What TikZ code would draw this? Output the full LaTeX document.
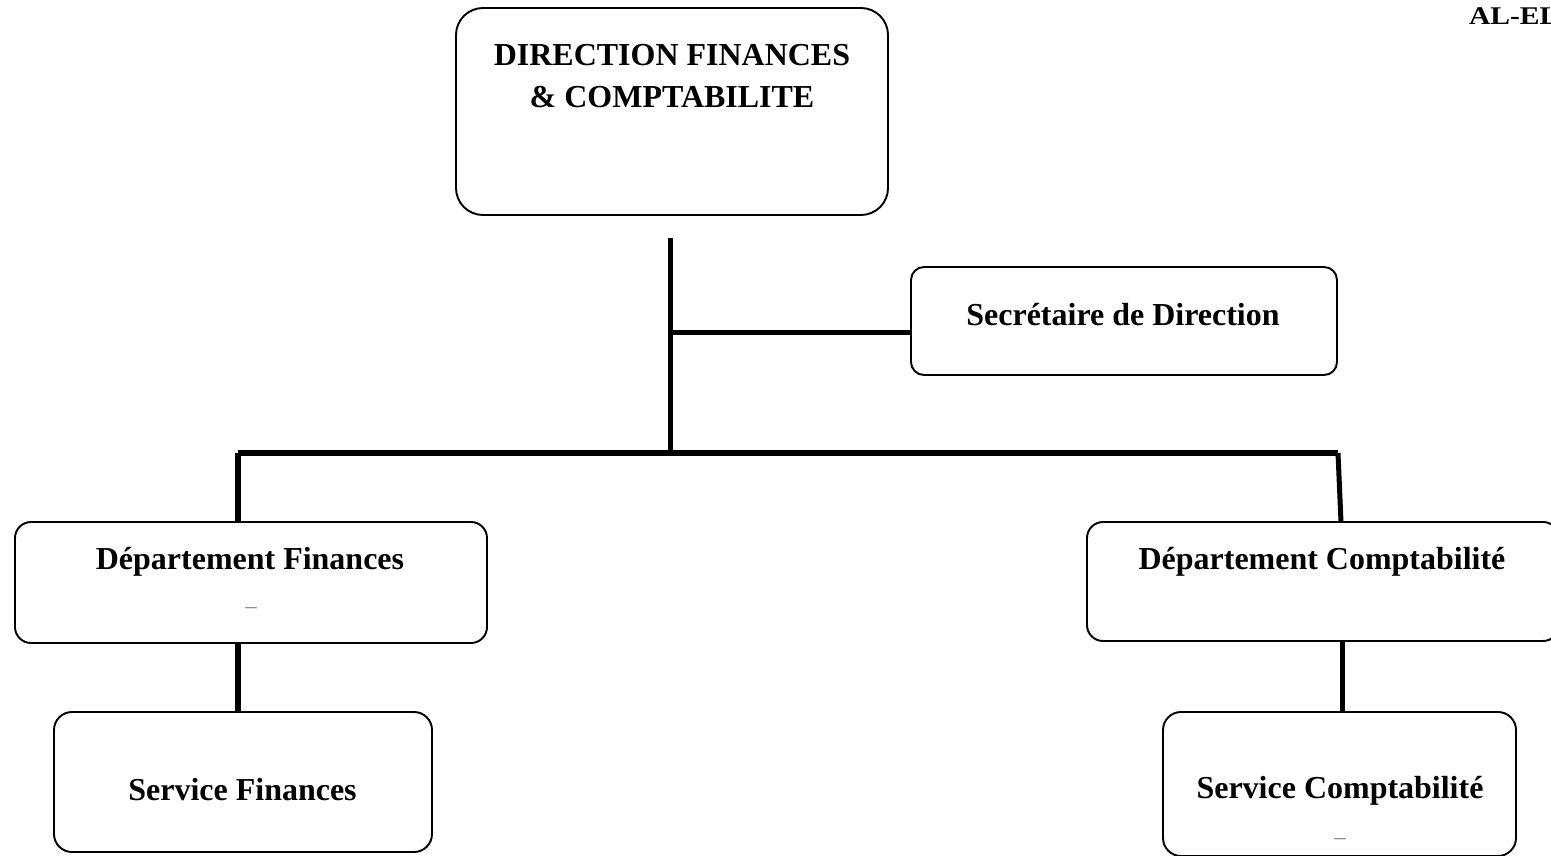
\documentclass[tikz,border=0pt]{standalone}
\usepackage{fontspec}
\setmainfont{Liberation Serif}
\begin{document}
\begin{tikzpicture}[inner sep=0pt,outer sep=0pt,
orgblock/.style={draw,rectangle,line width=1.1pt,rounded corners=#1},
orgtext/.style={font=\fontsize{18.2}{24}\selectfont\bfseries,align=center,anchor=base},
orglink/.style={line width=2.85pt},
blank/.style={text=gray,font=\fontsize{13}{13}\selectfont}]
\useasboundingbox (0,0) rectangle (31.02,-17.12);
\clip (0,0) rectangle (31.02,-17.12);

% boxes
\draw (13.44,-2.23) node[orgblock=0.54cm,minimum width=8.64cm,minimum height=4.14cm] (dir) {};
\draw (22.48,-6.42) node[orgblock=0.26cm,minimum width=8.52cm,minimum height=2.16cm] (sec) {};
\draw (5.02,-11.65) node[orgblock=0.32cm,minimum width=9.44cm,minimum height=2.42cm] (df) {};
\draw (26.46,-11.63) node[orgblock=0.32cm,minimum width=9.44cm,minimum height=2.38cm] (dc) {};
\draw (4.86,-15.64) node[orgblock=0.36cm,minimum width=7.56cm,minimum height=2.8cm] (sf) {};
\draw (26.79,-15.68) node[orgblock=0.36cm,minimum width=7.06cm,minimum height=2.88cm] (sc) {};

% texts
\node[orgtext] (dirT) at (13.44,-2.16) {DIRECTION FINANCES\\ \& COMPTABILITE};
\node[orgtext] (secT) at (22.46,-6.5) {Secrétaire de Direction};
\node[orgtext] (dfT) at (5.0,-11.38) {Département Finances};
\node[blank] (dfD) at (5.02,-12.22) {–};
\node[orgtext] (dcT) at (26.44,-11.38) {Département Comptabilité};
\node[orgtext] (sfT) at (4.85,-16.0) {Service Finances};
\node[orgtext] (scT) at (26.8,-15.96) {Service Comptabilité};
\node[blank] (scD) at (26.8,-16.84) {–};
\node[font=\fontsize{14.5}{14.5}\selectfont\bfseries,anchor=base west,transform shape,xscale=1.16] (ref) at (29.38,-0.5) {AL-EL};

% links
\coordinate (trunkTop) at (13.41,-4.76);
\coordinate (trunkBot) at (13.41,-9.1);
\coordinate (secJ) at (13.41,-6.65);
\coordinate (busL) at (4.76,-9.06);
\coordinate (busR) at (26.76,-9.06);
\coordinate (dcIn) at (26.82,-10.44);
\draw[orglink] (trunkTop) -- (trunkBot);
\draw[orglink] (secJ) -- (secJ -| sec.west);
\draw[orglink] (busL) -- (busR);
\draw[orglink] (busL) -- (busL |- df.north);
\draw[orglink] (busR) -- (dcIn);
\draw[orglink] (busL |- df.south) -- (busL |- sf.north);
\draw[orglink] (26.84,0 |- dc.south) -- (26.84,0 |- sc.north);
\end{tikzpicture}
\end{document}
